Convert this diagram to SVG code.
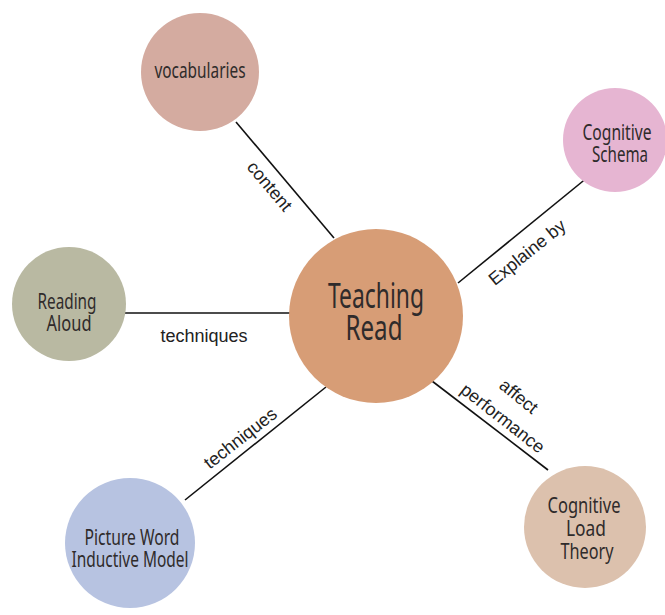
<svg xmlns="http://www.w3.org/2000/svg" width="665" height="615" viewBox="0 0 665 615">
<style>
.n{font-family:"Noto Sans","DejaVu Sans",sans-serif;fill:#2f2b2b;text-anchor:middle;font-size:21px}
.big{font-size:35px}
.l{font-family:"Liberation Sans",Arial,sans-serif;font-size:18px;fill:#222;text-anchor:middle}
.e{stroke:#111;stroke-width:1.6;fill:none}
</style>
<rect width="665" height="615" fill="#ffffff"/>
<g id="connectors">
<line class="e" x1="236" y1="122" x2="334" y2="238"/>
<line class="e" x1="458" y1="283" x2="588" y2="177"/>
<line class="e" x1="125" y1="313" x2="290" y2="313"/>
<line class="e" x1="185" y1="500" x2="326" y2="387"/>
<line class="e" x1="432" y1="381" x2="548" y2="470"/>
<text class="l" transform="translate(265,190) rotate(50)">content</text>
<text class="l" transform="translate(531,257) rotate(-39)">Explaine by</text>
<text class="l" x="204" y="342">techniques</text>
<text class="l" transform="translate(244,443) rotate(-38)">techniques</text>
<text class="l" transform="translate(515,401) rotate(39)">affect</text>
<text class="l" transform="translate(499,423) rotate(38)">performance</text>
</g>
<g id="teaching-read">
<circle cx="376" cy="316" r="87" fill="#d79d76"/>
<text class="n big" x="376" y="308" textLength="96" lengthAdjust="spacingAndGlyphs">Teaching</text>
<text class="n big" x="374" y="340" textLength="57" lengthAdjust="spacingAndGlyphs">Read</text>
</g>
<g id="vocabularies">
<circle cx="200" cy="72" r="59" fill="#d4aba0"/>
<text class="n" x="200" y="78" textLength="91" lengthAdjust="spacingAndGlyphs">vocabularies</text>
</g>
<g id="cognitive-schema">
<circle cx="615" cy="140" r="52" fill="#e6b5d2"/>
<text class="n" transform="translate(617,140) scale(0.745,1)">Cognitive</text>
<text class="n" transform="translate(620,162) scale(0.72,1)">Schema</text>
</g>
<g id="reading-aloud">
<circle cx="69" cy="304" r="57" fill="#b9b9a2"/>
<text class="n" x="67" y="309" textLength="59" lengthAdjust="spacingAndGlyphs">Reading</text>
<text class="n" x="69" y="331" textLength="45" lengthAdjust="spacingAndGlyphs">Aloud</text>
</g>
<g id="picture-word">
<circle cx="130" cy="543" r="65" fill="#b7c3e1"/>
<text class="n" x="132" y="545" textLength="95" lengthAdjust="spacingAndGlyphs">Picture Word</text>
<text class="n" x="130" y="567" textLength="117" lengthAdjust="spacingAndGlyphs">Inductive Model</text>
</g>
<g id="cognitive-load">
<circle cx="585" cy="527" r="61" fill="#dcc1ad"/>
<text class="n" x="584" y="513" textLength="73" lengthAdjust="spacingAndGlyphs">Cognitive</text>
<text class="n" x="586" y="536" textLength="40" lengthAdjust="spacingAndGlyphs">Load</text>
<text class="n" x="587" y="559" textLength="53" lengthAdjust="spacingAndGlyphs">Theory</text>
</g>
</svg>
